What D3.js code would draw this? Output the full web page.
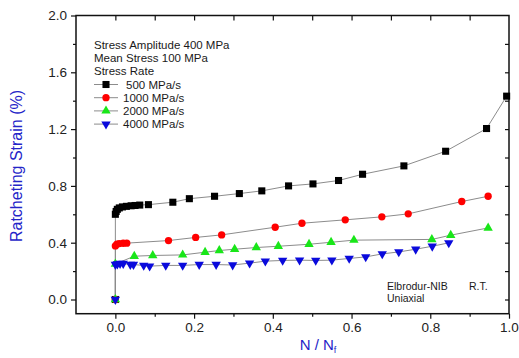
<!DOCTYPE html>
<html>
<head>
<meta charset="utf-8">
<script src="https://cdn.jsdelivr.net/npm/d3@7"></script>
<style>
  html, body { margin: 0; padding: 0; background: #fff; }
  svg text { font-family: "Liberation Sans", Arial, sans-serif; }
</style>
</head>
<body>
<svg id="chart" width="519" height="358"></svg>
<script>
// Ratcheting strain vs. life fraction for four stress rates
const rate500X  = [0, 0, 0.002, 0.005, 0.010, 0.018, 0.028, 0.040, 0.050, 0.062, 0.084, 0.146, 0.188, 0.252, 0.315, 0.372, 0.440, 0.502, 0.567, 0.628, 0.733, 0.839, 0.943, 0.994];
const rate500Y  = [0, 0.600, 0.620, 0.635, 0.645, 0.652, 0.656, 0.660, 0.662, 0.665, 0.668, 0.685, 0.710, 0.727, 0.746, 0.765, 0.800, 0.814, 0.838, 0.882, 0.941, 1.044, 1.204, 1.432];

const rate1000X = [0, 0, 0.004, 0.010, 0.020, 0.029, 0.135, 0.204, 0.270, 0.406, 0.474, 0.584, 0.677, 0.744, 0.880, 0.947];
const rate1000Y = [0, 0.377, 0.390, 0.394, 0.396, 0.397, 0.415, 0.437, 0.455, 0.509, 0.537, 0.561, 0.582, 0.603, 0.690, 0.727];

const rate2000X = [0, 0, 0.048, 0.095, 0.171, 0.228, 0.264, 0.303, 0.358, 0.414, 0.492, 0.548, 0.606, 0.804, 0.852, 0.947];
const rate2000Y = [0, 0.250, 0.305, 0.310, 0.314, 0.333, 0.345, 0.354, 0.366, 0.375, 0.389, 0.403, 0.418, 0.423, 0.453, 0.504];

const rate4000X = [0, 0, 0.005, 0.012, 0.020, 0.038, 0.046, 0.072, 0.087, 0.128, 0.171, 0.213, 0.256, 0.298, 0.341, 0.381, 0.425, 0.468, 0.509, 0.550, 0.594, 0.636, 0.678, 0.720, 0.763, 0.805, 0.847];
const rate4000Y = [0, 0.246, 0.250, 0.253, 0.253, 0.246, 0.246, 0.240, 0.235, 0.240, 0.240, 0.246, 0.246, 0.243, 0.256, 0.270, 0.275, 0.277, 0.275, 0.277, 0.289, 0.300, 0.321, 0.335, 0.354, 0.375, 0.399];

const seriesNames = ["500 MPa/s", "1000 MPa/s", "2000 MPa/s", "4000 MPa/s"];
const seriesColors = ["#000000", "#ff0000", "#19e619", "#0a0adc"];
const seriesShapes = ["square", "circle", "up", "down"];

const xTicks = [0, 0.2, 0.4, 0.6, 0.8, 1.0];
const yTicks = [0, 0.4, 0.8, 1.2, 1.6, 2.0];
const headerLines = ["Stress Amplitude 400 MPa", "Mean Stress 100 MPa", "Stress Rate"];
const noteLines = ["Elbrodur-NIB", "R.T.", "Uniaxial"];

const series = [
  [rate500X, rate500Y], [rate1000X, rate1000Y], [rate2000X, rate2000Y], [rate4000X, rate4000Y]
].map(([xs, ys], i) => ({
  name: seriesNames[i], color: seriesColors[i], shape: seriesShapes[i],
  points: xs.map((x, j) => ({ x, y: ys[j] }))
}));

const svg = d3.select("#chart");
const L = 76, R = 509, T = 15.5, B = 313.7;

const x = d3.scaleLinear().domain([-0.1, 1.0]).range([L, R]);
const y = d3.scaleLinear().domain([-0.1, 2.0]).range([B, T]);

const fmt = d3.format(".1f");
const axisColor = "#111";

// Axes: bottom/left outward, top/right inward
const gx = svg.append("g").attr("transform", `translate(0,${B})`)
  .call(d3.axisBottom(x).tickValues(xTicks).tickFormat(fmt).tickSize(5).tickSizeOuter(0).tickPadding(4));
const gxMinor = svg.append("g").attr("transform", `translate(0,${B})`)
  .call(d3.axisBottom(x).tickValues(d3.range(0.1, 1.0, 0.2)).tickFormat("").tickSize(3).tickSizeOuter(0));
const gy = svg.append("g").attr("transform", `translate(${L},0)`)
  .call(d3.axisLeft(y).tickValues(yTicks).tickFormat(fmt).tickSize(5).tickSizeOuter(0).tickPadding(4));
const gyMinor = svg.append("g").attr("transform", `translate(${L},0)`)
  .call(d3.axisLeft(y).tickValues(d3.range(0.2, 2.0, 0.4)).tickFormat("").tickSize(3).tickSizeOuter(0));
const gTop = svg.append("g").attr("transform", `translate(0,${T})`)
  .call(d3.axisBottom(x).tickValues(d3.range(0, 1.0, 0.1)).tickFormat("").tickSize(5).tickSizeOuter(0));
const gRight = svg.append("g").attr("transform", `translate(${R},0)`)
  .call(d3.axisLeft(y).tickValues(d3.range(0, 2.0, 0.2)).tickFormat("").tickSize(4).tickSizeOuter(0));

[gx, gxMinor, gy, gyMinor, gTop, gRight].forEach(g => {
  g.select(".domain").remove();
  g.selectAll(".tick line").attr("stroke", axisColor).attr("stroke-width", 1.2);
  g.selectAll(".tick text").attr("fill", "#222").style("font-size", "13.5px")
    .style("font-family", "'Liberation Sans', Arial, sans-serif");
});

// Frame
svg.append("rect").attr("x", L).attr("y", T).attr("width", R - L).attr("height", B - T)
  .attr("fill", "none").attr("stroke", axisColor).attr("stroke-width", 1.5);

// Axis titles
svg.append("text")
  .attr("transform", "translate(22,166) rotate(-90)")
  .attr("text-anchor", "middle").attr("fill", "#2424c8").style("font-size", "16px")
  .text("Ratcheting Strain (%)");

const xt = svg.append("text").attr("x", 318).attr("y", 350).attr("text-anchor", "middle")
  .attr("fill", "#2424c8").style("font-size", "15px");
xt.append("tspan").text("N / N");
xt.append("tspan").attr("dy", 3).style("font-size", "9px").text("f");

// Marker shapes
const symbolFor = shape => ({
  square: d3.symbol(d3.symbolSquare, 50),
  circle: d3.symbol(d3.symbolCircle, 42),
  up: d3.symbol(d3.symbolTriangle, 38),
  down: d3.symbol(d3.symbolTriangle, 38)
})[shape];
const rotFor = shape => shape === "down" ? " rotate(180)" : "";

const plot = svg.append("g");
const line = d3.line().x(d => x(d.x)).y(d => y(d.y));

series.forEach(s => {
  plot.append("path").datum(s.points).attr("d", line)
    .attr("fill", "none").attr("stroke", "#8c8c8c").attr("stroke-width", 1);
});
series.forEach(s => {
  plot.append("g").selectAll("path").data(s.points).join("path")
    .attr("d", symbolFor(s.shape))
    .attr("transform", d => `translate(${x(d.x)},${y(d.y)})${rotFor(s.shape)}`)
    .attr("fill", s.color);
});

// Legend block
const lg = svg.append("g").style("font-size", "11.5px").attr("fill", "#1a1a1a");
headerLines.forEach((t, i) => {
  lg.append("text").attr("x", 94).attr("y", 49 + i * 13.2).text(t);
});
series.forEach((s, i) => {
  const by = 88.5 + i * 13.2;
  const cy = by - 4;
  lg.append("line").attr("x1", 94).attr("x2", 118).attr("y1", cy).attr("y2", cy)
    .attr("stroke", "#8c8c8c").attr("stroke-width", 1);
  lg.append("path").attr("d", symbolFor(s.shape))
    .attr("transform", `translate(106,${cy})${rotFor(s.shape)}`).attr("fill", s.color);
  lg.append("text").attr("x", i === 0 ? 126 : 123).attr("y", by).text(s.name);
});

// Material / condition note
const nt = svg.append("g").style("font-size", "10.5px").attr("fill", "#1a1a1a");
nt.append("text").attr("x", 387).attr("y", 290).text(noteLines[0]);
nt.append("text").attr("x", 469).attr("y", 290).text(noteLines[1]);
nt.append("text").attr("x", 387).attr("y", 301.5).text(noteLines[2]);
</script>
</body>
</html>
